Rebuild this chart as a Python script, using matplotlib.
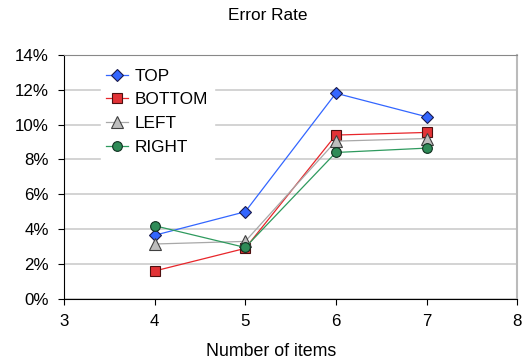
import matplotlib.pyplot as plt
from matplotlib.ticker import PercentFormatter

plt.rcParams['font.family'] = ['Liberation Sans', 'DejaVu Sans']

items = [4, 5, 6, 7]
top = [3.65, 5.0, 11.8, 10.45]
bottom = [1.6, 2.9, 9.4, 9.55]
left = [3.15, 3.3, 9.05, 9.2]
right = [4.2, 2.95, 8.4, 8.65]


def main():
    fig = plt.figure(figsize=(5.24, 3.61), dpi=100)
    ax = fig.add_axes([0.122, 0.172, 0.865, 0.676])

    ax.plot(items, top, color='#3366ff', lw=0.9, marker='D', ms=6,
            mfc='#3366ff', mec='#1a1a4d', mew=0.8, label='TOP')
    ax.plot(items, bottom, color='#e8262b', lw=0.9, marker='s', ms=7,
            mfc='#e23236', mec='#4d1010', mew=0.8, label='BOTTOM')
    ax.plot(items, left, color='#a8a8a8', lw=0.9, marker='^', ms=8,
            mfc='#bdbdbd', mec='#404040', mew=0.8, label='LEFT')
    ax.plot(items, right, color='#2e9a5e', lw=0.9, marker='o', ms=7,
            mfc='#2e8b57', mec='#103020', mew=0.8, label='RIGHT')

    ax.set_xlim(3, 8)
    ax.set_ylim(0, 14)
    ax.set_xticks(range(3, 9))
    ax.set_yticks(range(0, 15, 2))
    ax.yaxis.set_major_formatter(PercentFormatter(decimals=0))
    ax.grid(axis='y', color='#cccccc', lw=1.2)
    ax.set_axisbelow(True)

    ax.spines['top'].set_color('#888888')
    ax.spines['right'].set_color('#bbbbbb')
    ax.spines['right'].set_linewidth(1.5)
    ax.tick_params(labelsize=12.2, length=4, width=0.8, direction='out', pad=7)

    # title and x label sit centred on the figure, not the plot area
    fig.text(0.511, 0.958, 'Error Rate', fontsize=12.4, ha='center', va='center')
    fig.text(0.517, 0.025, 'Number of items', fontsize=12.8, ha='center', va='center')

    leg = ax.legend(loc='upper left', bbox_to_anchor=(0.062, 1.0), frameon=True,
                    fontsize=12.4, handlelength=1.3, handletextpad=0.4,
                    labelspacing=0.5, borderpad=0.3)
    leg.get_frame().set_edgecolor('white')
    leg.get_frame().set_facecolor('white')
    leg.get_frame().set_alpha(1)
    leg.get_frame().set_boxstyle('square', pad=0)

    fig.savefig('out.png', dpi=100)


if __name__ == "__main__":
    main()
